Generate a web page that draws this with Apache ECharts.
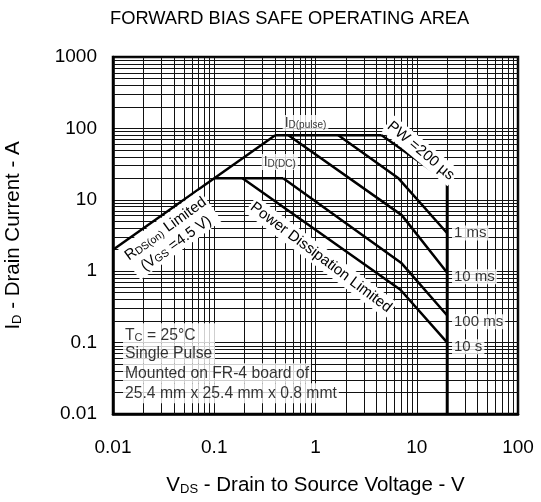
<!DOCTYPE html>
<html><head><meta charset="utf-8">
<script src="https://cdn.jsdelivr.net/npm/echarts@6/dist/echarts.min.js"></script>
<style>html,body{margin:0;padding:0;background:#fff}#c{width:541px;height:502px}</style>
</head><body><div id="c"></div>
<script>
// ---- data (log-log SOA boundaries, V in volts, I in amps) ----
const xTickLabels = ['0.01', '0.1', '1', '10', '100'];
const yTickLabels = ['0.01', '0.1', '1', '10', '100', '1000'];
const rdsV = [0.01, 0.4];          const rdsI = [2, 80];
const pulseV = [0.4, 4.5];         const pulseI = [80, 80];
const dcV = [0.1, 0.48];           const dcI = [20, 20];
const pw200usV = [4.5, 20];        const pw200usI = [80, 18];
const pw1msV = [1.68, 6.6, 20];    const pw1msI = [80, 20, 3.4];
const pw10msV = [0.54, 7.1, 20];   const pw10msI = [80, 6.1, 0.95];
const pw100msV = [0.48, 7.1, 20];  const pw100msI = [20, 1.29, 0.24];
const pw10sV = [0.19, 6.9, 20];    const pw10sI = [20, 0.55, 0.1];
const vdssV = [20, 20];            const vdssI = [18, 0.01];

const FONT = 'Liberation Sans, Arial, sans-serif';
const zip = (a, b) => a.map((v, i) => [v, b[i]]);

// minor log grid values
const minorX = [], minorY = [];
for (let e = -2; e < 2; e++) for (let k = 2; k <= 9; k++) minorX.push(+(k * Math.pow(10, e)).toPrecision(3));
for (let e = -2; e < 3; e++) for (let k = 2; k <= 9; k++) minorY.push(+(k * Math.pow(10, e)).toPrecision(3));

function curve(name, v, i, w) {
  return { name, type: 'line', data: zip(v, i), symbol: 'none', z: 5, silent: true,
    lineStyle: { color: '#000', width: w || 2.5 } };
}

const rich = {
  b: { fontSize: 15, fontFamily: FONT, fill: '#000', color: '#000', verticalAlign: 'bottom' },
  s: { fontSize: 10.5, fontFamily: FONT, fill: '#000', color: '#000', verticalAlign: 'bottom' },
  bb: { fontSize: 15.7, fontFamily: FONT, color: '#000', verticalAlign: 'bottom' },
  sb: { fontSize: 11, fontFamily: FONT, color: '#000', verticalAlign: 'bottom' },
  bi: { fontSize: 14, fontFamily: FONT, color: '#000', verticalAlign: 'bottom' },
  si: { fontSize: 10, fontFamily: FONT, color: '#000', verticalAlign: 'bottom' }
};
function ann(x, y, text, opts) {
  return { value: [x, y], label: Object.assign({ show: true, formatter: text, backgroundColor: '#fff',
    fontFamily: FONT, fontSize: 15, color: '#000', rich }, opts) };
}
const boxOpts = { position: 'right', distance: 0, padding: [0, 2], lineHeight: 20, fontSize: 15.7 };
const annotations = [
  ann(0.474, 119, '{bi|I}{si|D(pulse)}', { position: 'right', distance: 0, padding: [1, 2] }),
  ann(0.294, 33.8, '{bi|I}{si|D(DC)}', { position: 'right', distance: 0, padding: [1, 2] }),
  ann(22.3, 3.43, '1 ms', { position: 'right', distance: 0, padding: [0, 2] }),
  ann(22.3, 0.838, '10 ms', { position: 'right', distance: 0, padding: [0, 2] }),
  ann(22.3, 0.196, '100 ms', { position: 'right', distance: 0, padding: [0, 2] }),
  ann(22.3, 0.0877, '10 s', { position: 'right', distance: 0, padding: [0, 2] }),
  ann(0.01256, 0.135, '{bb|T}{sb|C}{bb| = 25°C}', Object.assign({}, boxOpts, { width: 88 })),
  ann(0.01256, 0.0708, 'Single Pulse', Object.assign({}, boxOpts, { width: 88 })),
  ann(0.01256, 0.0372, 'Mounted on FR-4 board of', boxOpts),
  ann(0.01256, 0.0195, '25.4 mm x 25.4 mm x 0.8 mmt', boxOpts)
];
// rotated labels: [V, I, text, angle(deg, ccw)]
const rotatedLabels = [
  [10.97, 48.5, 'PW =200 µs', -40],
  [1.133, 1.556, 'Power Dissipation Limited', -37],
  [0.0366, 3.21, '{b|R}{s|DS(on)}{b| Limited}\n{b|(V}{s|GS}{b| =4.5 V)}', 36]
];

const gridLineStyle = { color: '#111', width: 1, type: 'solid' };
const fmt = v => String(+(+v).toPrecision(6));
const nameRich = { b: { fontSize: 20.5, fontFamily: FONT, color: '#000', verticalAlign: 'bottom' },
                   s: { fontSize: 13, fontFamily: FONT, color: '#000', verticalAlign: 'bottom' } };

const chart = echarts.init(document.getElementById('c'), null, { renderer: 'canvas' });
chart.setOption({
  animation: false,
  backgroundColor: '#fff',
  title: { text: 'FORWARD BIAS SAFE OPERATING AREA', left: 110, top: 10, padding: 0,
    textStyle: { fontFamily: FONT, fontSize: 18.3, fontWeight: 'normal', color: '#000' } },
  grid: { left: 113, right: 23, top: 57, bottom: 88, show: true, borderColor: '#000', borderWidth: 2.5,
    backgroundColor: 'transparent', containLabel: false, outerBoundsMode: 'none' },
  xAxis: {
    type: 'log', logBase: 10, min: 0.01, max: 100,
    axisLine: { show: true, lineStyle: { color: '#000', width: 2.5 } },
    axisTick: { show: false },
    axisLabel: { fontFamily: FONT, fontSize: 19, color: '#000', margin: 24,
      formatter: v => { const s = fmt(v); return xTickLabels.includes(s) ? s : ''; } },
    splitLine: { show: true, lineStyle: gridLineStyle },
    name: '{b|V}{s|DS}{b| - Drain to Source Voltage - V}', nameLocation: 'middle', nameGap: 61,
    nameTextStyle: { rich: nameRich }
  },
  yAxis: {
    type: 'log', logBase: 10, min: 0.01, max: 1000,
    axisLine: { show: true, lineStyle: { color: '#000', width: 2.5 } },
    axisTick: { show: false },
    axisLabel: { fontFamily: FONT, fontSize: 19, color: '#000', margin: 16,
      formatter: v => { const s = fmt(v); return yTickLabels.includes(s) ? s : ''; } },
    splitLine: { show: true, lineStyle: gridLineStyle },
    name: '{b|I}{s|D}{b| - Drain Current - A}', nameLocation: 'middle', nameGap: 89, nameRotate: 90,
    nameTextStyle: { rich: nameRich }
  },
  series: [
    { name: 'grid', type: 'line', data: [], z: 1, silent: true,
      markLine: { silent: true, symbol: ['none', 'none'], label: { show: false }, animation: false,
        lineStyle: gridLineStyle,
        data: minorX.map(v => ({ xAxis: v })).concat(minorY.map(v => ({ yAxis: v }))) } },
    curve('RDS(on) limit', rdsV, rdsI),
    curve('ID(pulse)', pulseV, pulseI),
    curve('ID(DC)', dcV, dcI),
    curve('PW=200us', pw200usV, pw200usI),
    curve('1 ms', pw1msV, pw1msI),
    curve('10 ms', pw10msV, pw10msI),
    curve('100 ms', pw100msV, pw100msI),
    curve('10 s', pw10sV, pw10sI),
    curve('VDSS', vdssV, vdssI, 3),
    { name: 'annotations', type: 'scatter', symbolSize: 0, z: 10, silent: true, data: annotations }
  ]
});

// rotated annotations placed through the chart's own axes
const graphics = rotatedLabels.map(([v, i, text, ang]) => {
  const p = chart.convertToPixel({ gridIndex: 0 }, [v, i]);
  return { type: 'text', x: p[0], y: p[1], rotation: ang * Math.PI / 180, silent: true, z: 100,
    style: { text, fill: '#000', font: '15px ' + FONT, fontSize: 15, fontFamily: FONT,
      align: 'center', verticalAlign: 'middle', backgroundColor: '#fff', padding: [1, 2],
      lineHeight: 18, rich } };
});
chart.setOption({ graphic: graphics });
</script></body></html>
